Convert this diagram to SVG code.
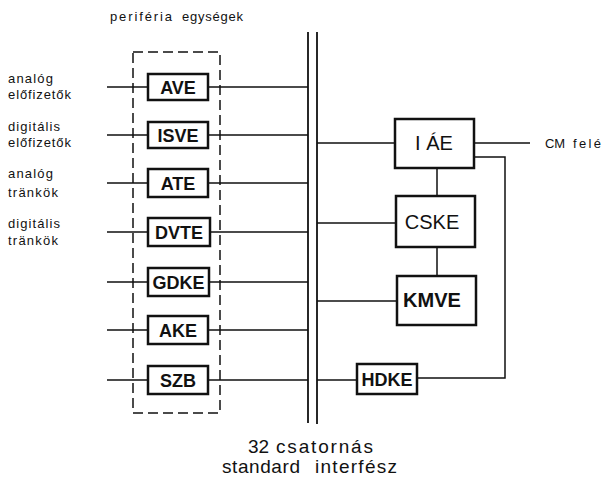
<svg xmlns="http://www.w3.org/2000/svg" width="603" height="480" viewBox="0 0 603 480">
<style>
text{font-family:"Liberation Sans",Arial,sans-serif;fill:#111}
.lbl{font-size:13px}
.box{fill:#fff;stroke:#111;stroke-width:2.5}
.bt{font-size:18px;font-weight:bold;text-anchor:middle}
.rt{font-size:20px;text-anchor:middle}
.wire{stroke:#111;stroke-width:1.5;fill:none}
.bus{stroke:#111;stroke-width:1.8;fill:none}
.big{font-size:19px}
</style>
<rect width="603" height="480" fill="#fff"/>
<g id="labels">
<text class="lbl" x="110" y="21" textLength="62" lengthAdjust="spacing">periféria</text>
<text class="lbl" x="182" y="21" textLength="61" lengthAdjust="spacing">egységek</text>
<text class="lbl" x="8" y="83" textLength="45" lengthAdjust="spacing">analóg</text>
<text class="lbl" x="8" y="99" textLength="63" lengthAdjust="spacing">előfizetők</text>
<text class="lbl" x="8" y="131" textLength="52" lengthAdjust="spacing">digitális</text>
<text class="lbl" x="8" y="147" textLength="63" lengthAdjust="spacing">előfizetők</text>
<text class="lbl" x="8" y="178" textLength="45" lengthAdjust="spacing">analóg</text>
<text class="lbl" x="8" y="197" textLength="50" lengthAdjust="spacing">tränkök</text>
<text class="lbl" x="8" y="228" textLength="52" lengthAdjust="spacing">digitális</text>
<text class="lbl" x="8" y="245" textLength="50" lengthAdjust="spacing">tränkök</text>
<text class="lbl" x="545" y="148" textLength="20" lengthAdjust="spacing">CM</text>
<text class="lbl" x="573" y="148" textLength="28" lengthAdjust="spacing">felé</text>
<text class="big" x="248" y="453">32</text>
<text class="big" x="276" y="453" textLength="97" lengthAdjust="spacing">csatornás</text>
<text class="big" x="222" y="473" textLength="78" lengthAdjust="spacing">standard</text>
<text class="big" x="315" y="473" textLength="82" lengthAdjust="spacing">interfész</text>
</g>
<g id="connectors">
<line class="bus" x1="308" y1="32" x2="308" y2="423"/>
<line class="bus" x1="317" y1="32" x2="317" y2="424"/>
<rect x="133" y="52" width="87" height="361" fill="none" stroke="#111" stroke-width="1.5" stroke-dasharray="10,5"/>
<path class="wire" d="M107 87H148M208 87H308"/>
<path class="wire" d="M107 135H148M208 135H308"/>
<path class="wire" d="M107 183H148M208 183H308"/>
<path class="wire" d="M107 232H148M210 232H308"/>
<path class="wire" d="M107 282H148M209 282H308"/>
<path class="wire" d="M107 330H148M208 330H308"/>
<path class="wire" d="M107 380H148M208 380H308"/>
<path class="wire" d="M317 143H395M474 143H530"/>
<path class="wire" d="M317 223H396"/>
<path class="wire" d="M317 301H397"/>
<path class="wire" d="M317 380H357"/>
<path class="wire" d="M437 168V196M437 247V276"/>
<path class="wire" d="M474 157H505V378H417"/>
</g>
<g id="AVE"><rect class="box" x="148" y="74" width="60" height="26"/><text class="bt" x="178" y="94">AVE</text></g>
<g id="ISVE"><rect class="box" x="148" y="122" width="60" height="26"/><text class="bt" x="178" y="142">ISVE</text></g>
<g id="ATE"><rect class="box" x="148" y="169" width="60" height="28"/><text class="bt" x="178" y="190">ATE</text></g>
<g id="DVTE"><rect class="box" x="148" y="218" width="62" height="28"/><text class="bt" x="179" y="239">DVTE</text></g>
<g id="GDKE"><rect class="box" x="148" y="268" width="61" height="28"/><text class="bt" x="178.5" y="289">GDKE</text></g>
<g id="AKE"><rect class="box" x="148" y="316" width="60" height="28"/><text class="bt" x="178" y="337">AKE</text></g>
<g id="SZB"><rect class="box" x="148" y="366" width="60" height="28"/><text class="bt" x="178" y="387">SZB</text></g>
<g id="IAE"><rect class="box" x="395" y="119" width="79" height="49"/><text class="rt" x="434" y="150">I ÁE</text></g>
<g id="CSKE"><rect class="box" x="396" y="196" width="79" height="51"/><text class="rt" x="432" y="229">CSKE</text></g>
<g id="KMVE"><rect class="box" x="397" y="276" width="79" height="49"/><text class="rt" x="432" y="307" font-weight="bold">KMVE</text></g>
<g id="HDKE"><rect class="box" x="357" y="364" width="60" height="30"/><text class="bt" x="387" y="386" font-weight="normal">HDKE</text></g>
</svg>
